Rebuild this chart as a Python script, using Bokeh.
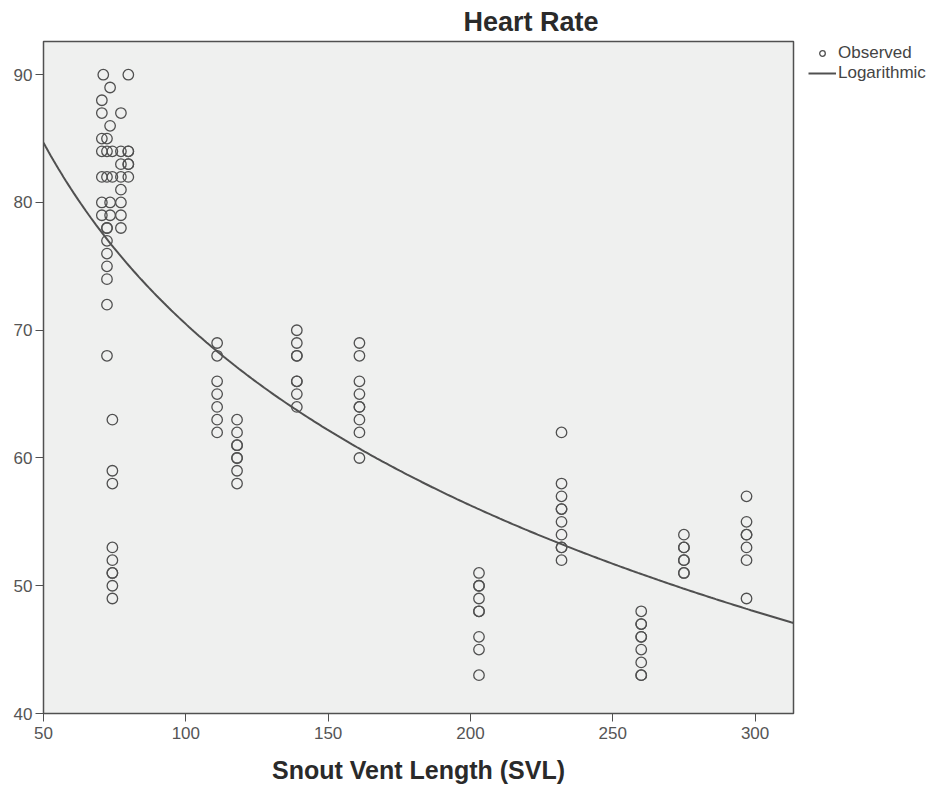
import numpy as np
from bokeh.plotting import figure
from bokeh.models import Range1d, Legend, LegendItem, FixedTicker, ColumnDataSource
from bokeh.embed import file_html
from bokeh.resources import INLINE

# ---- data (SVL, heart rate) ----
svl_070 = [88, 87, 85, 84, 82, 80, 79]
svl_071 = [90]
svl_072 = [85, 84, 82, 78, 78, 77, 76, 75, 74, 72, 68]
svl_073 = [89, 86, 80, 79]
svl_074 = [84, 82, 63, 59, 58, 53, 52, 51, 51, 50, 49]
svl_077 = [87, 84, 83, 82, 81, 80, 79, 78]
svl_080 = [90, 84, 84, 83, 83, 82]
svl_111 = [69, 68, 66, 65, 64, 63, 62]
svl_118 = [63, 62, 61, 61, 60, 60, 59, 58]
svl_139 = [70, 69, 68, 68, 66, 66, 65, 64]
svl_161 = [69, 68, 66, 65, 64, 64, 63, 62, 60]
svl_203 = [51, 50, 50, 49, 48, 48, 46, 45, 43]
svl_232 = [62, 58, 57, 56, 56, 55, 54, 53, 53, 52]
svl_260 = [48, 47, 47, 46, 46, 45, 44, 43, 43]
svl_275 = [54, 53, 53, 52, 52, 51, 51]
svl_297 = [57, 55, 54, 54, 53, 52, 49]

groups = {70.5: svl_070, 71: svl_071, 72.3: svl_072, 73.4: svl_073, 74.2: svl_074,
          77.2: svl_077, 79.8: svl_080, 111: svl_111, 118: svl_118, 139: svl_139,
          161: svl_161, 203: svl_203, 232: svl_232, 260: svl_260, 275: svl_275,
          297: svl_297}

# logarithmic model HR = a + b*ln(SVL), coefficients
fit_intercept = 164.8
fit_slope = -20.48

x_ticks = [50, 100, 150, 200, 250, 300]
y_ticks = [40, 50, 60, 70, 80, 90]

xs, ys = [], []
for k, vals in groups.items():
    xs += [k] * len(vals)
    ys += vals
xs = np.array(xs, dtype=float)
ys = np.array(ys, dtype=float)

xf = np.linspace(50, 313.5, 300)
yf = fit_intercept + fit_slope * np.log(xf)

FONT = "Liberation Sans"

p = figure(frame_width=750, frame_height=672, output_backend="svg",
           toolbar_location=None,
           x_range=Range1d(50, 313.5), y_range=Range1d(40, 92.6),
           min_border_left=43, min_border_right=144, min_border_top=40,
           min_border_bottom=73, background_fill_color="#eff0ef",
           border_fill_color="white")

p.title.text = "Heart Rate"
p.title.text_font = FONT
p.title.text_font_size = "27px"
p.title.text_font_style = "bold"
p.title.text_color = "#2a2a2a"
p.title.align = "left"
p.title.offset = 420
p.title.standoff = 9

p.outline_line_color = "#505050"
p.outline_line_width = 1.5
p.grid.visible = False

for ax in (p.xaxis[0], p.yaxis[0]):
    ax.axis_line_color = "#505050"
    ax.major_tick_line_color = "#505050"
    ax.major_tick_out = 8
    ax.major_tick_in = 0
    ax.minor_tick_line_color = None
    ax.major_label_text_font = FONT
    ax.major_label_text_font_size = "17px"
    ax.major_label_text_color = "#555555"

p.xaxis[0].ticker = FixedTicker(ticks=x_ticks)
p.yaxis[0].ticker = FixedTicker(ticks=y_ticks)
p.xaxis[0].major_label_standoff = 5
p.yaxis[0].major_label_standoff = 3
p.xaxis[0].axis_label = "Snout Vent Length (SVL)"
p.xaxis[0].axis_label_text_font = FONT
p.xaxis[0].axis_label_text_font_size = "25px"
p.xaxis[0].axis_label_text_font_style = "bold"
p.xaxis[0].axis_label_text_color = "#2a2a2a"
p.xaxis[0].axis_label_standoff = 14

src = ColumnDataSource(dict(x=xs, y=ys))
r_obs = p.scatter("x", "y", source=src, marker="circle", size=10.5,
                  fill_color=None, line_color="#505050", line_width=1.3)
r_fit = p.line(xf, yf, line_color="#505050", line_width=2)

legend = Legend(items=[LegendItem(label="Observed", renderers=[r_obs]),
                       LegendItem(label="Logarithmic", renderers=[r_fit])],
                location=(15, 630), margin=0, padding=0, spacing=0,
                glyph_width=28, glyph_height=14, label_standoff=2,
                label_text_font=FONT, label_text_font_size="17px",
                label_text_color="#444444", border_line_color=None,
                background_fill_alpha=0)
p.add_layout(legend, "right")

open("out.html", "w").write(file_html(p, INLINE))
